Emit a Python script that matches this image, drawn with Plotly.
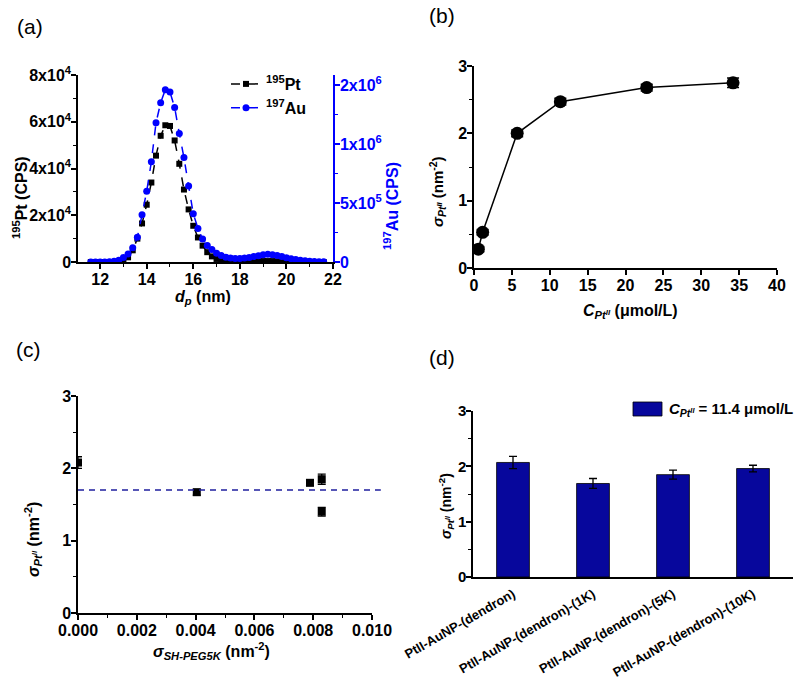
import plotly.graph_objects as go

# ---- (a) size distribution ----
dp_nm = [11.6, 11.8, 12.0, 12.2, 12.4, 12.6, 12.8, 13.0, 13.2, 13.4,
         13.6, 13.8, 14.0, 14.2, 14.4, 14.6, 14.8, 15.0, 15.2, 15.4,
         15.6, 15.8, 16.0, 16.2, 16.4, 16.6, 16.8, 17.0, 17.2, 17.4,
         17.6, 17.8, 18.0, 18.2, 18.4, 18.6, 18.8, 19.0, 19.2, 19.4,
         19.6, 19.8, 20.0, 20.2, 20.4, 20.6, 20.8, 21.0, 21.2, 21.4, 21.6]
pt_cps = [0, 0, 0, 0, 0, 0, 200, 600, 2000, 5000,
          10000, 16500, 24500, 34000, 45500, 54000, 58500, 58200, 52000, 42000,
          31000, 22500, 15500, 10500, 7000, 4200, 2400, 1300, 700, 400,
          300, 200, 200, 200, 300, 300, 400, 400, 400, 400,
          300, 300, 200, 200, 100, 100, 100, 0, 0, 0, 0]
au_cps = [0, 0, 0, 0, 2000, 6000, 15000, 38000, 68000, 120000,
          210000, 400000, 600000, 850000, 1180000, 1350000, 1460000, 1440000, 1310000, 1090000,
          885000, 645000, 410000, 285000, 195000, 140000, 105000, 75000, 56000, 41000,
          34000, 30000, 30000, 34000, 39000, 46000, 54000, 61000, 65000, 62000,
          55000, 46000, 37000, 28000, 21000, 15000, 10000, 7000, 4500, 3000, 1500]
pt_tickvals = [0, 20000, 40000, 60000, 80000]
pt_ticktext = ["0", "2x10<sup>4</sup>", "4x10<sup>4</sup>", "6x10<sup>4</sup>", "8x10<sup>4</sup>"]
au_tickvals = [0, 500000, 1000000, 1500000]
au_ticktext = ["0", "5x10<sup>5</sup>", "1x10<sup>6</sup>", "2x10<sup>6</sup>"]

# ---- (b) loading vs concentration ----
b_conc = [0.57, 1.14, 5.7, 11.4, 22.8, 34.2]
b_sigma = [0.28, 0.53, 2.0, 2.47, 2.68, 2.75]
b_err = [0.04, 0.04, 0.05, 0.05, 0.05, 0.07]

# ---- (c) loading vs PEG density ----
c_peg = [0.0, 0.00404, 0.00789, 0.00829, 0.00829]
c_sigma = [2.08, 1.67, 1.80, 1.85, 1.40]
c_err = [0.08, 0.04, 0.04, 0.07, 0.06]
c_mean = 1.70

# ---- (d) bars ----
d_labels = ["PtII-AuNP-(dendron)", "PtII-AuNP-(dendron)-(1K)",
            "PtII-AuNP-(dendron)-(5K)", "PtII-AuNP-(dendron)-(10K)"]
d_sigma = [2.07, 1.69, 1.85, 1.96]
d_err = [0.11, 0.09, 0.08, 0.06]

W, H = 800, 687
FONT = "Liberation Sans"
BLUE = "#0000ff"
NAVY = "#07079c"


def px(x):
    return x / W


def py(y):
    return 1 - y / H


def axis(domain, **kw):
    d = dict(domain=domain, showline=True, linecolor="black", linewidth=1.5,
             ticks="outside", ticklen=5, tickwidth=1.5, tickcolor="black",
             showgrid=False, zeroline=False, automargin=False, ticklabelstandoff=-3,
             tickfont=dict(family=FONT, size=16, color="black", weight="bold"))
    d.update(kw)
    return d


def minor(dtick, color="black"):
    return dict(ticks="outside", ticklen=3, tickwidth=1.2, tickcolor=color,
                dtick=dtick, showgrid=False)


fig = go.Figure()

fig.add_trace(go.Scatter(x=dp_nm, y=pt_cps, mode="lines+markers", name="<sup>195</sup>Pt",
                         line=dict(color="black", width=1.5, dash="dash"),
                         marker=dict(symbol="square", size=6, color="black"),
                         xaxis="x", yaxis="y", legend="legend"))
fig.add_trace(go.Scatter(x=dp_nm, y=au_cps, mode="lines+markers", name="<sup>197</sup>Au",
                         line=dict(color=BLUE, width=1.5, dash="dash"),
                         marker=dict(symbol="circle", size=7, color=BLUE),
                         xaxis="x", yaxis="y2", legend="legend"))

fig.add_trace(go.Scatter(x=b_conc, y=b_sigma, mode="lines+markers", showlegend=False,
                         line=dict(color="black", width=1.5),
                         marker=dict(symbol="circle", size=13, color="black"),
                         error_y=dict(type="data", array=b_err, color="black", thickness=1.5, width=6),
                         xaxis="x2", yaxis="y3"))

fig.add_trace(go.Scatter(x=c_peg, y=c_sigma, mode="markers", showlegend=False,
                         marker=dict(symbol="square", size=8, color="black"),
                         error_y=dict(type="data", array=c_err, color="black", thickness=1.3, width=4),
                         xaxis="x3", yaxis="y4"))

fig.add_trace(go.Bar(x=d_labels, y=d_sigma, showlegend=False, width=0.41,
                     marker=dict(color=NAVY, line=dict(color="black", width=0.8)),
                     error_y=dict(type="data", array=d_err, color="black", thickness=1.3, width=4),
                     xaxis="x4", yaxis="y5"))

fig.update_layout(
    width=W, height=H, margin=dict(l=0, r=0, t=0, b=0),
    plot_bgcolor="white", paper_bgcolor="white",
    font=dict(family=FONT, color="black"),
    xaxis=axis([px(78), px(333)], anchor="y", range=[11.05, 22], dtick=2, minor=minor(1)),
    yaxis=axis([py(262), py(75)], anchor="x", range=[0, 80000],
               tickvals=pt_tickvals, ticktext=pt_ticktext, minor=minor(10000)),
    yaxis2=axis([py(262), py(75)], anchor="x", overlaying="y", side="right",
                range=[0, 1585000], tickvals=au_tickvals, ticktext=au_ticktext,
                linecolor=BLUE, tickcolor=BLUE, minor=minor(250000, BLUE),
                tickfont=dict(family=FONT, size=16, color=BLUE, weight="bold")),
    xaxis2=axis([px(474), px(777)], anchor="y3", range=[0, 40], dtick=5),
    yaxis3=axis([py(268), py(66)], anchor="x2", range=[0, 3], dtick=1, minor=minor(0.5)),
    xaxis3=axis([px(78), px(372)], anchor="y4", range=[0, 0.010], dtick=0.002,
                tickformat=".3f", minor=minor(0.001)),
    yaxis4=axis([py(613), py(396)], anchor="x3", range=[0, 3], dtick=1, minor=minor(0.5)),
    xaxis4=axis([px(473), px(793)], anchor="y5", range=[-0.5, 3.5], ticks="",
                tickangle=-30, ticklabelstandoff=3,
                tickfont=dict(family=FONT, size=13, color="black", weight="bold")),
    yaxis5=axis([py(577), py(411)], anchor="x4", range=[0, 3], dtick=1, minor=minor(0.5),
                tickfont=dict(family=FONT, size=15, color="black", weight="bold")),
    legend=dict(x=px(226), y=py(67), xanchor="left", yanchor="top",
                bgcolor="rgba(0,0,0,0)", itemwidth=30,
                font=dict(family=FONT, size=16, color="black", weight="bold")),
)

# reference line in (c)
fig.add_shape(type="line", xref="x3 domain", yref="y4", x0=0, x1=1.03, y0=c_mean, y1=c_mean,
              line=dict(color="#1f1f9e", width=1.5, dash="6px,5px"))

# legend key in (d)
fig.add_shape(type="rect", xref="paper", yref="paper", x0=px(633), x1=px(662),
              y0=py(416), y1=py(402), fillcolor=NAVY, line=dict(color="black", width=0.8))

sig = "<i>σ</i><sub><i>Pt<sup>II</sup></i></sub>"
notes = [
    ("(a)", 30, 27, 0, 21, "normal", "black"),
    ("(b)", 442, 16, 0, 21, "normal", "black"),
    ("(c)", 29, 349, 0, 21, "normal", "black"),
    ("(d)", 442, 357, 0, 21, "normal", "black"),
    ("<i>d</i><sub><i>p</i></sub> (nm)", 203, 297, 0, 16, "bold", "black"),
    ("<sup>195</sup>Pt (CPS)", 20, 198, -90, 16, "bold", "black"),
    ("<sup>197</sup>Au (CPS)", 391, 206, -90, 16, "bold", BLUE),
    ("<i>C</i><sub><i>Pt<sup>II</sup></i></sub> (μmol/L)", 630, 312, 0, 16, "bold", "black"),
    (sig + " (nm<sup>-2</sup>)", 437, 192, -90, 15, "bold", "black"),
    (sig + " (nm<sup>-2</sup>)", 33, 540, -90, 16, "bold", "black"),
    ("<i>σ</i><sub><i>SH-PEG5K</i></sub> (nm<sup>-2</sup>)", 211, 651, 0, 16, "bold", "black"),
    (sig + " (nm<sup>-2</sup>)", 446, 506, -90, 14, "bold", "black"),
]
for text, x, y, ang, size, weight, color in notes:
    fig.add_annotation(text=text, x=px(x), y=py(y), xref="paper", yref="paper",
                       showarrow=False, textangle=ang, xanchor="center", yanchor="middle",
                       font=dict(family=FONT, size=size, color=color, weight=weight))

fig.add_annotation(text="<i>C</i><sub><i>Pt<sup>II</sup></i></sub> = 11.4 μmol/L",
                   x=px(667), y=py(409), xref="paper", yref="paper", showarrow=False,
                   xanchor="left", yanchor="middle",
                   font=dict(family=FONT, size=15, color="black", weight="bold"))

# the page body has a default 8px margin; drop it so the 800x687 figure fits the window
fig.write_html("out.html", config={"displayModeBar": False},
               post_script="document.body.style.margin='0';")
